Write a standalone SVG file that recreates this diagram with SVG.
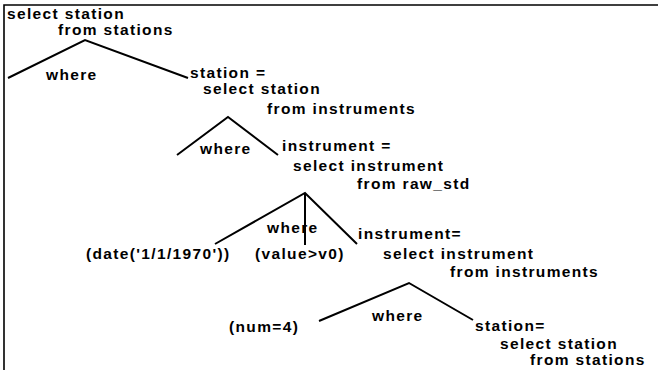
<svg xmlns="http://www.w3.org/2000/svg" width="658" height="370" viewBox="0 0 658 370">
<style>
text{font-family:"Liberation Sans",Arial,sans-serif;font-weight:bold;font-size:15.5px;letter-spacing:1.35px;fill:#000}
.e{stroke:#000;stroke-width:2;fill:none}
.f{stroke:#000;stroke-width:1.6;fill:none}
</style>
<rect width="658" height="370" fill="#fff"/>
<g id="frame"><path class="f" d="M4,370 V5 H658"/></g>
<g id="connectors">
<polyline class="e" points="8,78 85,40 188,78"/>
<polyline class="e" points="177,155 228,117 278,155"/>
<polyline class="e" points="215,244 305,193 357,244"/>
<line class="e" x1="305" y1="193" x2="305" y2="245"/>
<polyline class="e" points="319,321 409,283 473,320"/>
</g>
<g id="n1"><text x="7" y="19">select station</text><text x="58" y="35">from stations</text></g>
<g id="w1"><text x="46" y="80">where</text></g>
<g id="n2"><text x="190" y="78">station =</text><text x="203" y="94">select station</text><text x="267" y="114">from instruments</text></g>
<g id="w2"><text x="200" y="154">where</text></g>
<g id="n3"><text x="282" y="151">instrument =</text><text x="293" y="171">select instrument</text><text x="357" y="189">from raw_std</text></g>
<g id="w3"><text x="267" y="233">where</text></g>
<g id="c1"><text x="86" y="259">(date('1/1/1970'))</text></g>
<g id="c2"><text x="255" y="259">(value&gt;v0)</text></g>
<g id="n4"><text x="358" y="239">instrument=</text><text x="383" y="259">select instrument</text><text x="450" y="277">from instruments</text></g>
<g id="w4"><text x="372" y="321">where</text></g>
<g id="c3"><text x="229" y="332">(num=4)</text></g>
<g id="n5"><text x="475" y="331">station=</text><text x="500" y="349">select station</text><text x="530" y="365">from stations</text></g>
</svg>
